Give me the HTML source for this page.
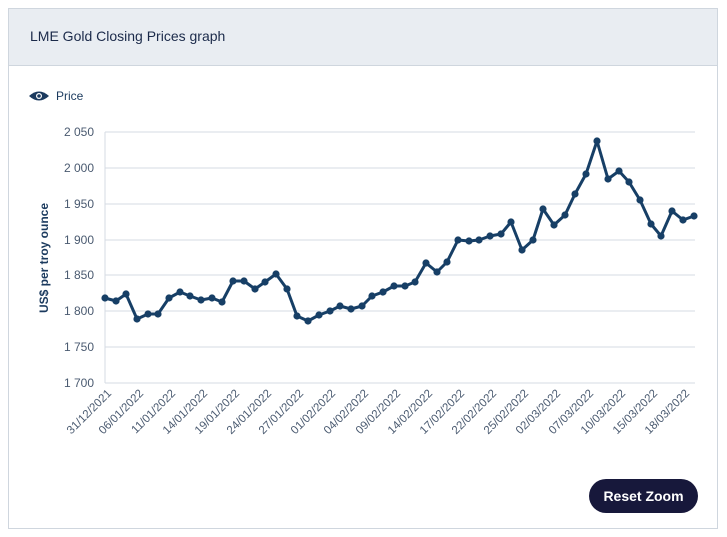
<!DOCTYPE html>
<html><head><style>
body{margin:0;background:#fff;font-family:"Liberation Sans",sans-serif;}
.box{position:absolute;left:8px;top:8px;width:710px;height:521px;border:1px solid #cfd6de;box-sizing:border-box;}
.hdr{height:56px;background:#e9edf2;border-bottom:1px solid #cfd6de;}
.hdr span{position:absolute;left:21px;top:19px;font-size:14px;color:#1b2a4a;}
.btn{position:absolute;left:589px;top:479px;width:109px;height:34px;border-radius:17px;background:#17183b;color:#fff;font-size:14px;font-weight:bold;text-align:center;line-height:34px;}
</style></head><body>
<div class="box"><div class="hdr"><span>LME Gold Closing Prices graph</span></div></div>
<svg style="position:absolute;left:0;top:0" width="727" height="537" font-family="Liberation Sans, sans-serif">
<g fill="#1b3a5e"><path d="M29 96 Q39 87 49 96 Q39 105 29 96Z"/><circle cx="39" cy="96" r="3" fill="#fff"/><circle cx="39" cy="96" r="1.8"/></g>
<text x="56" y="100" font-size="12" fill="#1b3a5e">Price</text>
<g stroke="#d5dbe3" stroke-width="1">
<line x1="105" x2="695" y1="132" y2="132"/><line x1="105" x2="695" y1="168" y2="168"/><line x1="105" x2="695" y1="204" y2="204"/><line x1="105" x2="695" y1="240" y2="240"/><line x1="105" x2="695" y1="275" y2="275"/><line x1="105" x2="695" y1="311" y2="311"/><line x1="105" x2="695" y1="347" y2="347"/><line x1="105" x2="695" y1="383" y2="383"/>
<line x1="105" x2="105" y1="132" y2="383"/>
</g>
<g font-size="12" fill="#4a5a70" text-anchor="end">
<text x="94" y="136">2 050</text><text x="94" y="172">2 000</text><text x="94" y="208">1 950</text><text x="94" y="244">1 900</text><text x="94" y="279">1 850</text><text x="94" y="315">1 800</text><text x="94" y="351">1 750</text><text x="94" y="387">1 700</text>
</g>
<text transform="translate(48,258) rotate(-90)" font-size="12" font-weight="bold" fill="#1b3a5e" text-anchor="middle">US$ per troy ounce</text>
<g font-size="11.5" fill="#4a5a70" text-anchor="end">
<text transform="translate(112,394) rotate(-45)">31/12/2021</text>
<text transform="translate(144,394) rotate(-45)">06/01/2022</text>
<text transform="translate(176,394) rotate(-45)">11/01/2022</text>
<text transform="translate(208,394) rotate(-45)">14/01/2022</text>
<text transform="translate(240,394) rotate(-45)">19/01/2022</text>
<text transform="translate(272,394) rotate(-45)">24/01/2022</text>
<text transform="translate(304,394) rotate(-45)">27/01/2022</text>
<text transform="translate(336,394) rotate(-45)">01/02/2022</text>
<text transform="translate(369,394) rotate(-45)">04/02/2022</text>
<text transform="translate(401,394) rotate(-45)">09/02/2022</text>
<text transform="translate(433,394) rotate(-45)">14/02/2022</text>
<text transform="translate(465,394) rotate(-45)">17/02/2022</text>
<text transform="translate(497,394) rotate(-45)">22/02/2022</text>
<text transform="translate(529,394) rotate(-45)">25/02/2022</text>
<text transform="translate(561,394) rotate(-45)">02/03/2022</text>
<text transform="translate(594,394) rotate(-45)">07/03/2022</text>
<text transform="translate(626,394) rotate(-45)">10/03/2022</text>
<text transform="translate(658,394) rotate(-45)">15/03/2022</text>
<text transform="translate(690,394) rotate(-45)">18/03/2022</text>
</g>
<polyline fill="none" stroke="#173f66" stroke-width="3" stroke-linejoin="round" points="105,298 116,301 126,294 137,319 148,314 158,314 169,298 180,292 190,296 201,300 212,298 222,302 233,281 244,281 255,289 265,282 276,274 287,289 297,316 308,321 319,315 330,311 340,306 351,309 362,306 372,296 383,292 394,286 405,286 415,282 426,263 437,272 447,262 458,240 469,241 479,240 490,236 501,234 511,222 522,250 533,240 543,209 554,225 565,215 575,194 586,174 597,141 608,179 619,171 629,182 640,200 651,224 661,236 672,211 683,220 694,216"/>
<g fill="#173f66" id="dots"></g>
</svg>
<div class="btn">Reset Zoom</div>
<script>
var p="105,298 116,301 126,294 137,319 148,314 158,314 169,298 180,292 190,296 201,300 212,298 222,302 233,281 244,281 255,289 265,282 276,274 287,289 297,316 308,321 319,315 330,311 340,306 351,309 362,306 372,296 383,292 394,286 405,286 415,282 426,263 437,272 447,262 458,240 469,241 479,240 490,236 501,234 511,222 522,250 533,240 543,209 554,225 565,215 575,194 586,174 597,141 608,179 619,171 629,182 640,200 651,224 661,236 672,211 683,220 694,216".split(" ");
var g=document.getElementById("dots"),s="";
p.forEach(function(q){var a=q.split(",");s+='<circle cx="'+a[0]+'" cy="'+a[1]+'" r="3.6"/>';});
g.innerHTML=s;
</script>
</body></html>
